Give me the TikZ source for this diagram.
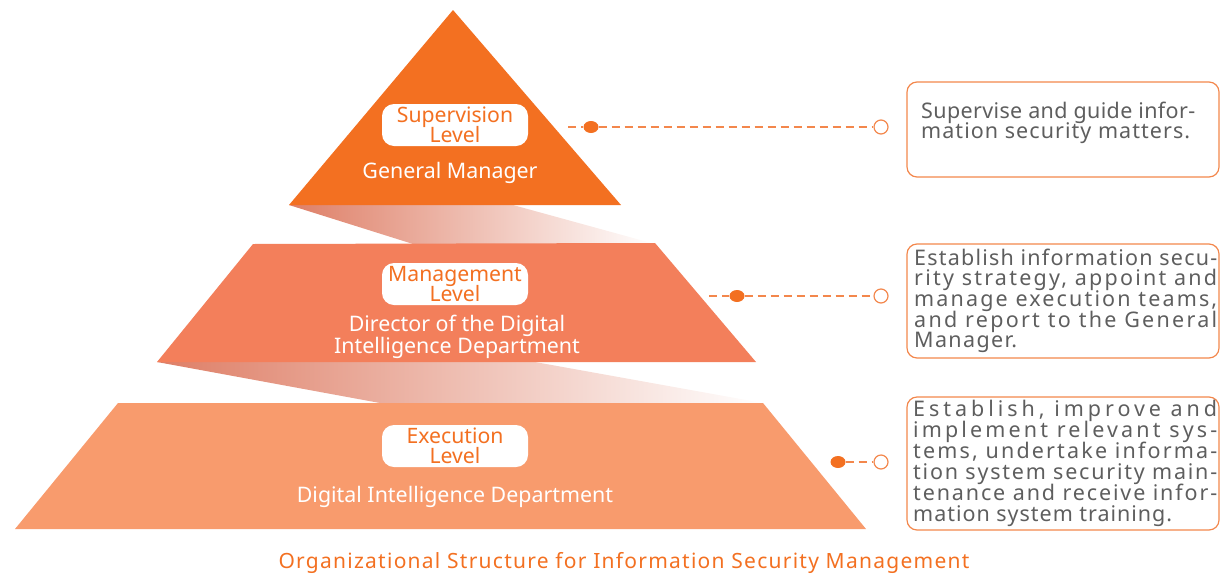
\documentclass[tikz,border=0pt]{standalone}
\usepackage{fontspec}
\usetikzlibrary{shapes.geometric}
\setmainfont{Noto Sans}
\newfontfamily\capfont[LetterSpace=6]{Noto Sans}
\definecolor{orA}{HTML}{F37021}
\definecolor{orB}{HTML}{F37F5B}
\definecolor{orC}{HTML}{F89B6D}
\definecolor{shd}{HTML}{DE7E66}
\definecolor{txtgray}{HTML}{5E5E5E}
\definecolor{lnk}{HTML}{F3874C}
\newlength\jwa
\newlength\jwb
\newcommand\jline[2]{%
  \settowidth\jwa{#2}%
  \settowidth\jwb{\addfontfeature{LetterSpace=10}#2}%
  \pgfmathsetmacro\jlsval{10*(#1-\jwa)/(\jwb-\jwa)}%
  \makebox[#1][l]{\addfontfeature{LetterSpace=\jlsval}#2}}
\begin{document}
\lineskiplimit=-100pt
\begin{tikzpicture}[x=1pt,y=-1pt,
  lvlbox/.style={fill=white, rounded corners=12pt, minimum width=146pt, minimum height=42pt,
    inner sep=0pt, text=orA, font=\fontsize{21.2}{20}\selectfont, align=center},
  roletext/.style={text=white, font=\fontsize{21.4}{22}\selectfont, align=center, inner sep=0pt},
  fdot/.style={ellipse, fill=orA, minimum width=15pt, minimum height=12pt, inner sep=0pt},
  odot/.style={circle, draw=lnk, fill=white, line width=1.2pt, minimum size=14pt, inner sep=0pt},
  link/.style={draw=lnk, line width=1.3pt, dash pattern=on 8pt off 5pt},
  descbox/.style={draw=lnk, line width=1.2pt, rounded corners=10pt},
  desctext/.style={text=txtgray, align=left, inner sep=0pt, anchor=north west}
]
\useasboundingbox (0,0) rectangle (1220,576);

% shadows
\shade[left color=shd, right color=white] (289,205) -- (513,205) -- (655,244) -- (413,244) -- cycle;
\shade[left color=shd, right color=white] (157,362) -- (535,362) -- (763,403) -- (380,403) -- cycle;

% pyramid levels
\fill[orA] (453,10) -- (621,205) -- (289,205) -- cycle;
\fill[orB] (253,244) -- (655,243) -- (756,362) -- (157,362) -- cycle;
\fill[orC] (118,403) -- (763,403) -- (866,529) -- (15,529) -- cycle;

% level labels
\node[lvlbox] (sup) at (455,125) {Supervision\\Level};
\node[roletext] (gm) at (450,172.5) {General Manager};
\node[lvlbox] (mgmt) at (455,284) {Management\\Level};
\node[roletext] (dir) at (457,337) {Director of the Digital\\Intelligence Department};
\node[lvlbox] (exe) at (455,446) {Execution\\Level};
\node[roletext] (did) at (455,497) {Digital Intelligence Department};

% connectors
\coordinate (s1) at (568,127);
\node[fdot] (d1) at (591,127) {};
\node[odot] (o1) at (881,127) {};
\draw[link] (s1) -- (d1) -- (o1);

\coordinate (s2) at (709,296);
\node[fdot] (d2) at (737,296) {};
\node[odot] (o2) at (881,296) {};
\draw[link] (s2) -- (d2) -- (o2);

\node[fdot] (d3) at (838,462) {};
\node[odot] (o3) at (881,462) {};
\draw[link] (d3) -- (o3);

% description boxes
\draw[descbox] (907,82) rectangle (1219,177);
\node[desctext, font=\fontsize{21.5}{20}\selectfont] (t1) at (921,102)
  {\jline{274pt}{Supervise and guide infor-}\\
   \jline{269pt}{mation security matters.}};

\draw[descbox] (907,244) rectangle (1219,358);
\node[desctext, font=\fontsize{21.5}{20.7}\selectfont] (t2) at (914,248.5)
  {\jline{303pt}{Establish information secu-}\\
   \jline{303pt}{rity strategy, appoint and}\\
   \jline{303pt}{manage execution teams,}\\
   \jline{303pt}{and report to the General}\\
   \jline{103pt}{Manager.}};

\draw[descbox] (907,397) rectangle (1219,530);
\node[desctext, font=\fontsize{21.5}{21}\selectfont] (t3) at (913,400)
  {\jline{304pt}{Establish, improve and}\\
   \jline{304pt}{implement relevant sys-}\\
   \jline{304pt}{tems, undertake informa-}\\
   \jline{304pt}{tion system security main-}\\
   \jline{304pt}{tenance and receive infor-}\\
   \jline{259pt}{mation system training.}};

% caption
\node[text=orA, font=\capfont\fontsize{21}{21}\selectfont, inner sep=0pt] (cap) at (624,563)
  {Organizational Structure for Information Security Management};
\end{tikzpicture}
\end{document}
